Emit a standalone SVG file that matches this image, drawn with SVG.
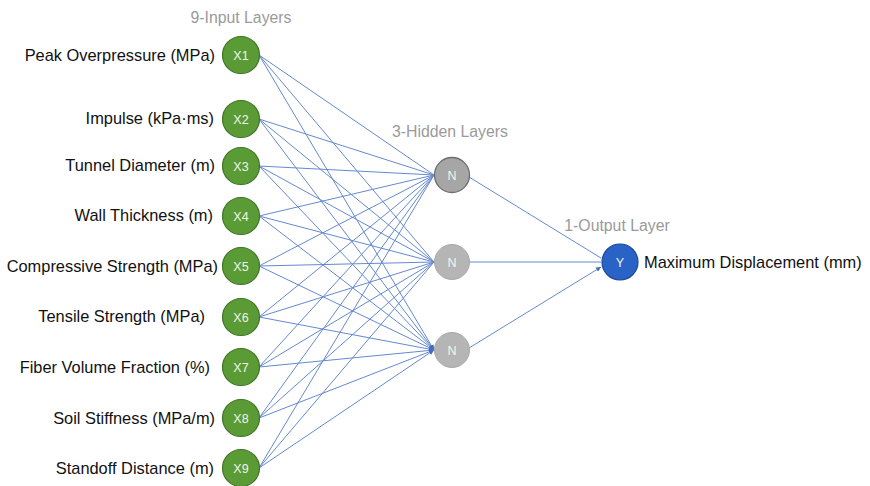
<svg xmlns="http://www.w3.org/2000/svg" width="870" height="486" viewBox="0 0 870 486">
<defs>
<style>
.lbl{font-family:"Liberation Sans",Arial,sans-serif;font-size:16.4px;fill:#111}
.hdr{font-family:"Liberation Sans",Arial,sans-serif;font-size:15.8px;fill:#9a9a9a}
.nt{font-family:"Liberation Sans Narrow","Liberation Sans",Arial,sans-serif;font-size:12.5px;fill:#eef5ea;text-anchor:middle}
.in{fill:#5b9b35;stroke:#3f7526;stroke-width:1.2}
.hid{fill:#b5b5b5;stroke:#a8a8a8;stroke-width:1}
.hid1{fill:#a6a6a6;stroke:#6e6e6e;stroke-width:1.3}
.out{fill:#2a63c6;stroke:#1d4a99;stroke-width:1.2}
.c{stroke:#6589cf;stroke-width:1;fill:none;marker-end:url(#ah)}
</style>
<marker id="ah" viewBox="0 0 10 10" refX="10" refY="5" markerWidth="5" markerHeight="5" orient="auto" markerUnits="userSpaceOnUse">
<path d="M0,0 L10,5 L0,10 z" fill="#3f6fc4"/>
</marker>
</defs>
<rect width="870" height="486" fill="#fff"/>
<text class="hdr" x="241" y="23" text-anchor="middle">9-Input Layers</text>
<text class="hdr" x="450" y="137" text-anchor="middle">3-Hidden Layers</text>
<text class="hdr" x="617" y="231" text-anchor="middle">1-Output Layer</text>
<g id="connectors">
<path class="c" d="M259,55 L434,175 M259,55 L434,262 M259,55 L434,350"/>
<path class="c" d="M259,119 L434,175 M259,119 L434,262 M259,119 L434,350"/>
<path class="c" d="M259,166 L434,175 M259,166 L434,262 M259,166 L434,350"/>
<path class="c" d="M259,216 L434,175 M259,216 L434,262 M259,216 L434,350"/>
<path class="c" d="M259,266 L434,175 M259,266 L434,262 M259,266 L434,350"/>
<path class="c" d="M259,317 L434,175 M259,317 L434,262 M259,317 L434,350"/>
<path class="c" d="M259,367 L434,175 M259,367 L434,262 M259,367 L434,350"/>
<path class="c" d="M259,418 L434,175 M259,418 L434,262 M259,418 L434,350"/>
<path class="c" d="M259,468 L434,175 M259,468 L434,262 M259,468 L434,350"/>
<path class="c" d="M469,177 L601,258 M470,262 L601,262 M469,348 L601,267"/>
</g>
<g id="x1"><circle class="in" cx="241" cy="55" r="18.5"/><text class="nt" x="241" y="59.5">X1</text><text class="lbl" x="215" y="61" text-anchor="end">Peak Overpressure (MPa)</text></g>
<g id="x2"><circle class="in" cx="241" cy="119" r="18.5"/><text class="nt" x="241" y="123.5">X2</text><text class="lbl" x="214" y="124" text-anchor="end">Impulse (kPa·ms)</text></g>
<g id="x3"><circle class="in" cx="241" cy="166" r="18.5"/><text class="nt" x="241" y="170.5">X3</text><text class="lbl" x="215" y="171" text-anchor="end">Tunnel Diameter (m)</text></g>
<g id="x4"><circle class="in" cx="241" cy="216" r="18.5"/><text class="nt" x="241" y="220.5">X4</text><text class="lbl" x="213" y="221" text-anchor="end">Wall Thickness (m)</text></g>
<g id="x5"><circle class="in" cx="241" cy="266" r="18.5"/><text class="nt" x="241" y="270.5">X5</text><text class="lbl" x="218" y="272" text-anchor="end">Compressive Strength (MPa)</text></g>
<g id="x6"><circle class="in" cx="241" cy="317" r="18.5"/><text class="nt" x="241" y="321.5">X6</text><text class="lbl" x="205" y="322" text-anchor="end">Tensile Strength (MPa)</text></g>
<g id="x7"><circle class="in" cx="241" cy="367" r="18.5"/><text class="nt" x="241" y="371.5">X7</text><text class="lbl" x="210" y="373" text-anchor="end">Fiber Volume Fraction (%)</text></g>
<g id="x8"><circle class="in" cx="241" cy="418" r="18.5"/><text class="nt" x="241" y="422.5">X8</text><text class="lbl" x="215" y="424" text-anchor="end">Soil Stiffness (MPa/m)</text></g>
<g id="x9"><circle class="in" cx="241" cy="468" r="18.5"/><text class="nt" x="241" y="472.5">X9</text><text class="lbl" x="214" y="474" text-anchor="end">Standoff Distance (m)</text></g>
<g id="n1"><circle class="hid1" cx="452" cy="175" r="17.5"/><text class="nt" x="452" y="179.5">N</text></g>
<g id="n2"><circle class="hid" cx="452" cy="262" r="17.5"/><text class="nt" x="452" y="266.5">N</text></g>
<g id="n3"><circle class="hid" cx="452" cy="350" r="17.5"/><text class="nt" x="452" y="354.5">N</text></g>
<g id="y"><circle class="out" cx="620" cy="262" r="18"/><text class="nt" x="620" y="266.5">Y</text><text class="lbl" x="644" y="268">Maximum Displacement (mm)</text></g>
</svg>
